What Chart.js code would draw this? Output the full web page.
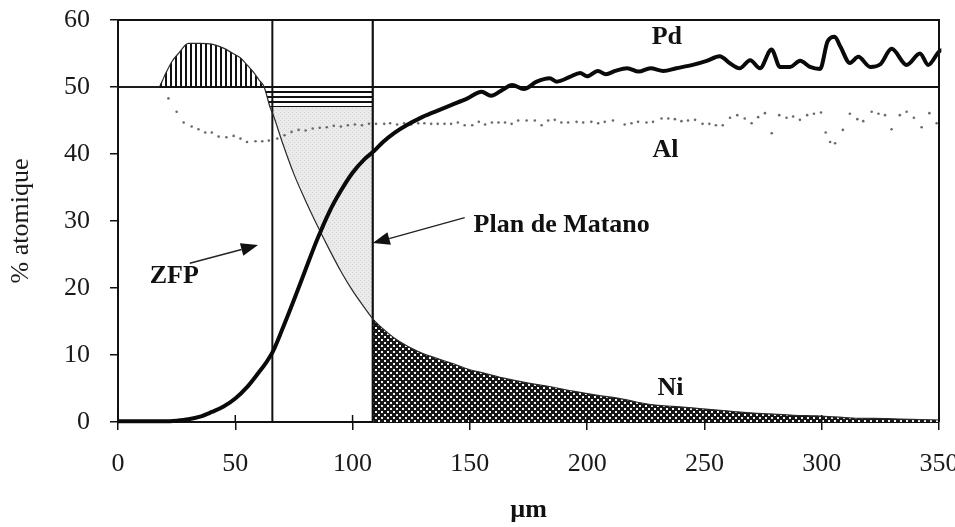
<!DOCTYPE html>
<html>
<head>
<meta charset="utf-8">
<script src="https://cdn.jsdelivr.net/npm/chart.js@4/dist/chart.umd.min.js"></script>
<style>
  html, body { margin: 0; padding: 0; background: #fff; }
  #c { display: block; }
</style>
</head>
<body>
<canvas id="c" width="955" height="527"></canvas>
<script>
// ---------- DATA ----------
const xTicks = [0, 50, 100, 150, 200, 250, 300, 350];
const yTicks = [0, 10, 20, 30, 40, 50, 60];

// Pd (thick line)
const pdX = [0, 10, 20, 25, 30, 35, 40, 45, 50, 55, 60, 63, 66, 70, 75, 80, 85, 90, 95, 100, 105, 109, 113, 118, 123, 129, 135, 142, 149, 155, 159, 164, 168, 173, 178.5, 184, 187, 192.6, 197, 200, 204.6, 208, 212, 217, 222, 227, 232.5, 238, 245, 251, 256.5, 261, 265, 269.5, 273.7, 278.6, 282.2, 286.5, 290.8, 295, 299.3, 302.5, 305.5, 308, 312, 315.6, 320.7, 325, 329.8, 336.2, 341.9, 345.4, 351, 353];
const pdY = [0.1, 0.1, 0.1, 0.2, 0.4, 0.8, 1.5, 2.3, 3.5, 5.2, 7.4, 8.8, 10.5, 13.8, 18.2, 22.8, 27.3, 31.3, 34.5, 37.2, 39.2, 40.4, 41.8, 43.2, 44.3, 45.4, 46.3, 47.3, 48.3, 49.3, 48.7, 49.6, 50.3, 49.7, 50.8, 51.3, 50.8, 51.5, 52.1, 51.6, 52.4, 51.9, 52.4, 52.8, 52.3, 52.8, 52.4, 52.8, 53.3, 53.9, 54.6, 53.5, 52.8, 54.0, 52.8, 55.6, 53.0, 53.0, 53.9, 53.0, 52.7, 56.8, 57.5, 56.0, 53.6, 54.5, 53.0, 53.4, 55.7, 53.3, 55.0, 53.3, 55.5, 53.8];

// Ni (thin line)
const niX = [0, 8, 14, 17.3, 20, 23, 26, 30, 35, 40, 45, 49, 52, 55, 58, 60, 62.3, 64.8, 66.3, 70, 75, 80, 85, 90, 95, 100, 105, 108.6, 115, 120, 128, 135, 142, 150, 156, 165, 175, 184, 194, 204, 214, 227, 238, 248, 258, 268, 278, 288, 298, 313, 328, 338, 350];
const niY = [50, 50, 50, 50, 51.8, 53.8, 55.1, 56.5, 56.5, 56.4, 55.8, 55.0, 54.4, 53.3, 52.1, 51.1, 50, 47, 45.7, 41.8, 37, 33, 29.3, 25.8, 22.5, 19.6, 17.1, 15.4, 13.3, 12, 10.5, 9.6, 8.8, 7.8, 7.3, 6.5, 5.8, 5.3, 4.6, 4.0, 3.5, 2.6, 2.3, 2.0, 1.7, 1.4, 1.2, 1.0, 0.9, 0.6, 0.5, 0.4, 0.3];

// Al (dotted points)
const alX = [21.5, 25, 28, 31.4, 34.3, 37.2, 40, 42.9, 46.2, 49.3, 52.2, 55, 58.6, 61.5, 64.3, 67.9, 71, 74, 77, 80, 83, 86, 89, 92, 95, 98, 101, 104, 107, 110, 113.5, 116, 119, 122, 125, 128, 130.6, 133.5, 136.3, 139.2, 142, 144.9, 147.8, 151, 153.8, 156.5, 159.4, 162.2, 165, 167.8, 170.6, 174.2, 177.7, 180.6, 183.4, 186.2, 189, 191.9, 195.5, 198.3, 201.8, 204.7, 207.5, 211, 216, 218.9, 221.7, 225.3, 228.1, 231.7, 234.6, 237.4, 240.2, 243, 246, 249.2, 252.1, 254.9, 257.8, 260.9, 264, 267.2, 270.1, 272.9, 275.8, 278.7, 281.9, 285, 287.8, 290.7, 293.8, 296.7, 299.7, 301.7, 303.6, 305.7, 309, 312, 315.2, 317.7, 321.3, 324.2, 327, 329.8, 333.3, 336.2, 339.3, 342.6, 345.9, 349];
const alY = [48.3, 46.3, 44.7, 44.1, 43.7, 43.2, 43.2, 42.6, 42.5, 42.7, 42.3, 41.8, 41.9, 41.9, 42.0, 42.3, 42.8, 43.3, 43.6, 43.5, 43.8, 43.9, 44.0, 44.2, 44.1, 44.3, 44.4, 44.3, 44.5, 44.5, 44.5, 44.6, 44.4, 44.6, 44.4, 44.6, 44.6, 44.5, 44.5, 44.5, 44.5, 44.7, 44.3, 44.3, 44.8, 44.4, 44.7, 44.7, 44.7, 44.5, 45.0, 45.0, 45.0, 44.3, 45.0, 45.1, 44.7, 44.7, 44.8, 44.7, 44.8, 44.6, 44.8, 45.0, 44.4, 44.6, 44.8, 44.7, 44.8, 45.3, 45.3, 45.2, 44.9, 45.0, 45.1, 44.5, 44.5, 44.3, 44.3, 45.4, 45.8, 45.3, 44.6, 45.5, 46.1, 43.1, 45.8, 45.4, 45.6, 45.1, 45.8, 46.0, 46.2, 43.2, 41.8, 41.6, 43.6, 46.0, 45.2, 44.9, 46.3, 46.0, 45.8, 43.7, 45.8, 46.3, 45.4, 44.0, 46.1, 44.6];

// Reference lines / regions
const refLevel = 50;          // horizontal line at 50 %
const zfpX = 65.8;            // ZFP boundary
const matanoX = 108.6;        // Matano plane
const bandLow = 47;           // lower edge of the horizontally hatched band
const bumpStart = 17.3, bumpEnd = 62.3;

// ---------- helpers ----------
const pts = (xs, ys) => xs.map((x, i) => ({ x, y: ys[i] }));
const niPts = pts(niX, niY);
const seg = (a, b) => niPts.filter(p => p.x >= a && p.x <= b);

function makePattern(w, h, draw) {
  const c = document.createElement('canvas');
  c.width = w; c.height = h;
  const g = c.getContext('2d');
  draw(g, w, h);
  return document.getElementById('c').getContext('2d').createPattern(c, 'repeat');
}
const vHatch = makePattern(5, 5, (g) => { g.fillStyle = '#fff'; g.fillRect(0,0,5,5); g.fillStyle = '#111'; g.fillRect(0, 0, 2, 5); });
const hHatch = makePattern(5, 5, (g) => { g.fillStyle = '#fff'; g.fillRect(0,0,5,5); g.fillStyle = '#111'; g.fillRect(0, 1, 5, 2); });
const greyDots = makePattern(4, 4, (g) => { g.fillStyle = '#ebebeb'; g.fillRect(0,0,4,4); g.fillStyle = '#d2d2d2'; g.fillRect(0,0,1,1); g.fillRect(2,2,1,1); });
const checker = makePattern(6, 6, (g) => { g.fillStyle = '#161616'; g.fillRect(0,0,6,6); g.fillStyle = '#f4f4f4'; g.fillRect(0,0,2,2); g.fillRect(3,3,2,2); });

const serif = "'Liberation Serif', 'Times New Roman', serif";

const base = { pointRadius: 0, borderWidth: 0, borderColor: 'rgba(0,0,0,0)' };

const datasets = [
  { label: 'Pd', data: pts(pdX, pdY), borderColor: '#0a0a0a', borderWidth: 4, pointRadius: 0,
    cubicInterpolationMode: 'monotone', fill: false, order: 0, clip: { left: 0, top: 2, right: 8, bottom: 3 } },
  { label: 'Ni', data: niPts, borderColor: '#2a2a2a', borderWidth: 1.2, pointRadius: 0,
    cubicInterpolationMode: 'monotone', fill: false, order: 1 },
  { label: 'Al', data: pts(alX, alY), showLine: false, pointRadius: 1.3, pointBorderWidth: 0,
    pointBackgroundColor: '#6a6a6a', borderColor: '#6a6a6a', fill: false, order: 2 },
  { label: 'ref50', data: [{ x: 0, y: refLevel }, { x: 350, y: refLevel }], borderColor: '#111', borderWidth: 2, pointRadius: 0, fill: false, order: 3 },
  { label: 'zfp', data: [{ x: zfpX, y: 0 }, { x: zfpX, y: 60 }], borderColor: '#111', borderWidth: 2, pointRadius: 0, fill: false, order: 3 },
  { label: 'matano', data: [{ x: matanoX, y: 0 }, { x: matanoX, y: 60 }], borderColor: '#111', borderWidth: 2.2, pointRadius: 0, fill: false, order: 3 },
  Object.assign({}, base, { label: 'bump', data: seg(bumpStart, bumpEnd), cubicInterpolationMode: 'monotone', fill: { value: refLevel }, backgroundColor: vHatch, order: 6 }),
  Object.assign({}, base, { label: 'band', data: seg(bumpEnd, 64.8).concat([{ x: matanoX, y: bandLow }]), fill: { value: refLevel }, backgroundColor: hHatch, order: 6 }),
  Object.assign({}, base, { label: 'grey', data: seg(64.8, matanoX), cubicInterpolationMode: 'monotone', fill: { value: bandLow }, backgroundColor: greyDots, order: 7 }),
  Object.assign({}, base, { label: 'dark', data: seg(matanoX, 350), cubicInterpolationMode: 'monotone', fill: 'origin', backgroundColor: checker, order: 6 })
];

// ---------- plugins ----------
const frame = {
  id: 'frame',
  afterDatasetsDraw(chart) {
    const { ctx, chartArea: a, scales } = chart;
    ctx.save();
    ctx.strokeStyle = '#111';
    ctx.lineWidth = 2;
    ctx.beginPath();
    ctx.moveTo(a.left, a.top); ctx.lineTo(a.right, a.top); ctx.lineTo(a.right, a.bottom);
    ctx.stroke();
    ctx.lineWidth = 1.5;
    scales.x.ticks.forEach(t => {
      const px = scales.x.getPixelForValue(t.value);
      ctx.beginPath(); ctx.moveTo(px, a.bottom); ctx.lineTo(px, a.bottom - 7); ctx.stroke();
    });
    ctx.restore();
  }
};

const notes = {
  id: 'notes',
  afterDraw(chart) {
    const { ctx } = chart;
    const X = v => chart.scales.x.getPixelForValue(v);
    const Y = v => chart.scales.y.getPixelForValue(v);
    ctx.save();
    ctx.fillStyle = '#111';
    ctx.font = "bold 26px " + serif;
    ctx.textBaseline = 'middle';
    ctx.textAlign = 'left';
    const labels = [
      ['Pd', 227.5, 57.4], ['Al', 227.9, 40.6], ['Ni', 230, 5.1],
      ['Plan de Matano', 151.6, 29.4], ['ZFP', 13.5, 21.7]
    ];
    labels.forEach(([t, x, y]) => ctx.fillText(t, X(x), Y(y)));
    const arrows = [
      [30.6, 23.7, 59.7, 26.4],
      [147.8, 30.5, matanoX, 26.7]
    ];
    ctx.strokeStyle = '#222';
    ctx.lineWidth = 1.4;
    arrows.forEach(([x1, y1, x2, y2]) => {
      const ax = X(x1), ay = Y(y1), bx = X(x2), by = Y(y2);
      const ang = Math.atan2(by - ay, bx - ax);
      const L = 17, W = 6.5;
      const cx = bx - L * Math.cos(ang), cy = by - L * Math.sin(ang);
      ctx.beginPath(); ctx.moveTo(ax, ay); ctx.lineTo(cx, cy); ctx.stroke();
      ctx.beginPath();
      ctx.moveTo(bx, by);
      ctx.lineTo(cx + W * Math.sin(ang), cy - W * Math.cos(ang));
      ctx.lineTo(cx - W * Math.sin(ang), cy + W * Math.cos(ang));
      ctx.closePath(); ctx.fill();
    });
    ctx.restore();
  }
};

new Chart(document.getElementById('c'), {
  type: 'line',
  data: { datasets },
  options: {
    responsive: false,
    animation: false,
    events: [],
    layout: { padding: { left: 0, right: 16, top: 20, bottom: 0 } },
    plugins: { legend: { display: false }, tooltip: { enabled: false } },
    scales: {
      x: {
        type: 'linear', min: 0, max: 350,
        afterBuildTicks(s) { s.ticks = xTicks.map(v => ({ value: v })); },
        ticks: { color: '#1a1a1a', font: { family: serif, size: 26 }, padding: 19, maxRotation: 0, autoSkip: false },
        grid: { drawOnChartArea: false, drawTicks: true, tickLength: 8, color: '#111', lineWidth: 1.5 },
        border: { display: true, color: '#111', width: 2 },
        title: { display: true, text: 'µm', color: '#111', font: { family: serif, size: 26, weight: 'bold' }, padding: { top: 0, bottom: 1 } },
        afterFit(s) { s.height = 105; s.paddingLeft = 0; s.paddingRight = 0; }
      },
      y: {
        type: 'linear', min: 0, max: 60,
        afterBuildTicks(s) { s.ticks = yTicks.map(v => ({ value: v })); },
        ticks: { color: '#1a1a1a', font: { family: serif, size: 26 }, padding: 20 },
        grid: { drawOnChartArea: false, drawTicks: true, tickLength: 8, color: '#111', lineWidth: 1.5 },
        border: { display: true, color: '#111', width: 2 },
        title: { display: true, text: '% atomique', color: '#1a1a1a', font: { family: serif, size: 26 }, padding: { top: 6, bottom: 0 } },
        afterFit(s) { s.width = 118; s.paddingTop = 0; s.paddingBottom = 0; }
      }
    }
  },
  plugins: [frame, notes]
});
</script>
</body>
</html>
